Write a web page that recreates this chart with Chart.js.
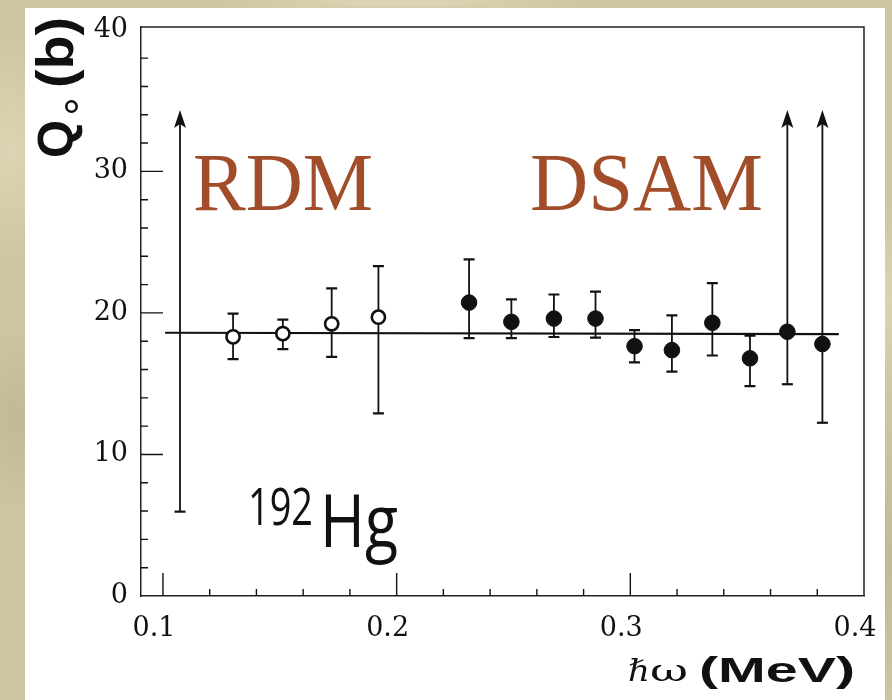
<!DOCTYPE html>
<html>
<head>
<meta charset="utf-8">
<script src="https://cdn.jsdelivr.net/npm/chart.js@4.4.0/dist/chart.umd.min.js"></script>
<style>
  html, body { margin: 0; padding: 0; }
  body {
    width: 892px; height: 700px; position: relative; overflow: hidden;
    background-color: #cec4a1;
    background-image:
      radial-gradient(ellipse 60px 120px at 10px 150px, rgba(255,250,225,0.3), transparent),
      radial-gradient(ellipse 40px 90px at 15px 420px, rgba(150,135,95,0.2), transparent),
      radial-gradient(ellipse 50px 100px at 880px 300px, rgba(255,250,225,0.3), transparent),
      radial-gradient(ellipse 200px 10px at 400px 3px, rgba(255,250,230,0.35), transparent),
      radial-gradient(ellipse 40px 140px at 885px 560px, rgba(150,135,95,0.2), transparent);
  }
  #panel { position: absolute; left: 25px; top: 8px; width: 860px; height: 692px; background: #ffffff; }
  #wrap { position: absolute; left: 0; top: 0; width: 892px; height: 700px; }
</style>
</head>
<body>
<div id="panel"></div>
<div id="wrap"><canvas id="c" width="892" height="700"></canvas></div>
<script>
// Quadrupole moment Q0 (b) of 192Hg versus rotational frequency (MeV)

// RDM points (open circles)
const rdmOmega = [0.1300, 0.1513, 0.1722, 0.1922];
const rdmQ     = [18.31, 18.54, 19.23, 19.70];
const rdmLow   = [16.73, 17.44, 16.90, 12.90];
const rdmHigh  = [19.95, 19.53, 21.73, 23.30];

// DSAM points (filled circles)
const dsamOmega = [0.2310, 0.2491, 0.2673, 0.2851, 0.3018, 0.3178, 0.3351, 0.3512, 0.3672, 0.3822];
const dsamQ     = [20.73, 19.37, 19.60, 19.60, 17.65, 17.37, 19.30, 16.79, 18.67, 17.80];
const dsamLow   = [18.22, 18.22, 18.30, 18.25, 16.50, 15.85, 16.99, 14.83, 14.96, 12.24];
const dsamHigh  = [23.78, 20.96, 21.30, 21.50, 18.78, 19.83, 22.10, 18.40, 34.34, 34.34];
// upper error open-ended (drawn as an arrow)
const dsamOpenTop = [false, false, false, false, false, false, false, false, true, true];

// lower-limit only measurement (no central point)
const limitOmega = [0.1073];
const limitLow   = [5.96];
const limitHigh  = [34.34];

// constant-Q0 fit
const fitOmega = [0.1009, 0.3892];
const fitQ     = [18.60, 18.50];

// axis ticks
const xTickValues = [0.1, 0.2, 0.3, 0.4];
const yTickValues = [0, 10, 20, 30, 40];
const xMinorStep = 0.02;
const yMinorStep = 2;

const INK = '#111111';

function fitText(ctx, text, x, y, width, font, color) {
  ctx.save();
  ctx.font = font;
  ctx.fillStyle = color || INK;
  ctx.textBaseline = 'alphabetic';
  ctx.textAlign = 'left';
  const w = ctx.measureText(text).width;
  ctx.translate(x, y);
  ctx.scale(width / w, 1);
  ctx.fillText(text, 0, 0);
  ctx.restore();
}

function arrowHead(ctx, x, yTip) {
  ctx.beginPath();
  ctx.moveTo(x, yTip);
  ctx.lineTo(x - 6, yTip + 18);
  ctx.lineTo(x, yTip + 14);
  ctx.lineTo(x + 6, yTip + 18);
  ctx.closePath();
  ctx.fill();
}

const errorBars = {
  id: 'errorBars',
  beforeDatasetsDraw(chart) {
    const { ctx, scales: { x, y } } = chart;
    ctx.save();
    ctx.strokeStyle = INK;
    ctx.fillStyle = INK;
    const bar = (xv, lo, hi, openTop) => {
      const px = x.getPixelForValue(xv);
      const pLo = y.getPixelForValue(lo);
      const pHi = y.getPixelForValue(hi);
      ctx.lineWidth = 1.8;
      ctx.beginPath();
      ctx.moveTo(px, pLo);
      ctx.lineTo(px, openTop ? pHi + 14 : pHi);
      ctx.stroke();
      ctx.lineWidth = 2.2;
      ctx.beginPath();
      ctx.moveTo(px - 5.5, pLo); ctx.lineTo(px + 5.5, pLo);
      if (!openTop) { ctx.moveTo(px - 5.5, pHi); ctx.lineTo(px + 5.5, pHi); }
      ctx.stroke();
      if (openTop) arrowHead(ctx, px, pHi);
    };
    rdmOmega.forEach((v, i) => bar(v, rdmLow[i], rdmHigh[i], false));
    dsamOmega.forEach((v, i) => bar(v, dsamLow[i], dsamHigh[i], dsamOpenTop[i]));
    limitOmega.forEach((v, i) => bar(v, limitLow[i], limitHigh[i], true));
    ctx.restore();
  }
};

const frameAndText = {
  id: 'frameAndText',
  afterDraw(chart) {
    const { ctx, chartArea: a, scales: { x, y } } = chart;
    ctx.save();
    // top and right edges of the frame
    ctx.strokeStyle = '#222';
    ctx.lineWidth = 1.5;
    ctx.beginPath();
    ctx.moveTo(a.left, a.top); ctx.lineTo(a.right, a.top); ctx.lineTo(a.right, a.bottom);
    ctx.stroke();

    // inward tick marks
    ctx.strokeStyle = INK;
    ctx.lineWidth = 1.4;
    ctx.beginPath();
    for (let v = 0.1; v < x.max - 1e-6; v += xMinorStep) {
      const px = x.getPixelForValue(v);
      const major = xTickValues.some(t => Math.abs(t - v) < 1e-6);
      ctx.moveTo(px, a.bottom); ctx.lineTo(px, a.bottom - (major ? 23 : 7));
    }
    for (let v = yMinorStep; v < y.max - 0.5; v += yMinorStep) {
      const py = y.getPixelForValue(v);
      const major = yTickValues.some(t => Math.abs(t - v) < 1e-6);
      ctx.moveTo(a.left, py); ctx.lineTo(a.left + (major ? 22 : 7), py);
    }
    ctx.stroke();

    // y axis title: Q0 (b)
    ctx.save();
    ctx.translate(73, 158);
    ctx.rotate(-Math.PI / 2);
    fitText(ctx, 'Q', 0, 0, 38, 'bold 50px "Liberation Sans"');
    ctx.strokeStyle = INK;
    ctx.lineWidth = 2.6;
    ctx.beginPath();
    ctx.arc(51.5, -1.5, 5.2, 0, Math.PI * 2);
    ctx.stroke();
    fitText(ctx, '(b)', 70, 0, 71, 'bold 52px "Liberation Sans"');
    ctx.restore();

    // x axis title: ħω (MeV)
    fitText(ctx, '\u210F', 628, 681, 22, 'italic 30px "DejaVu Serif"');
    fitText(ctx, '\u03C9', 650, 681, 38, '29px "DejaVu Serif"');
    fitText(ctx, '(MeV)', 699, 682, 156, 'bold 35px "Liberation Sans"');

    // method labels
    const brown = '#a24d2a';
    fitText(ctx, 'RDM', 193, 210, 180, '82px "Liberation Serif"', brown);
    fitText(ctx, 'DSAM', 530, 210, 233, '82px "Liberation Serif"', brown);

    // nucleus label
    fitText(ctx, '192', 248, 525, 65, '52px "Open Sans"');
    fitText(ctx, 'Hg', 320, 547, 78, '73px "Open Sans"');
    ctx.restore();
  }
};

new Chart(document.getElementById('c'), {
  type: 'scatter',
  data: {
    datasets: [
      {
        label: 'fit',
        data: fitOmega.map((v, i) => ({ x: v, y: fitQ[i] })),
        showLine: true, borderColor: INK, borderWidth: 2.2, pointRadius: 0, order: 3
      },
      {
        label: 'RDM',
        data: rdmOmega.map((v, i) => ({ x: v, y: rdmQ[i] })),
        pointStyle: 'circle', pointRadius: 6.6, pointBorderWidth: 2.6,
        pointBackgroundColor: '#ffffff', pointBorderColor: INK, order: 1
      },
      {
        label: 'DSAM',
        data: dsamOmega.map((v, i) => ({ x: v, y: dsamQ[i] })),
        pointStyle: 'circle', pointRadius: 7.8, pointBorderWidth: 1,
        pointBackgroundColor: INK, pointBorderColor: INK, order: 1
      }
    ]
  },
  options: {
    responsive: false,
    animation: false,
    devicePixelRatio: 1,
    events: [],
    layout: { padding: { left: 0, top: 27, right: 28, bottom: 0 } },
    plugins: { legend: { display: false }, tooltip: { enabled: false } },
    scales: {
      x: {
        type: 'linear', min: 0.0906, max: 0.4,
        afterBuildTicks: s => { s.ticks = xTickValues.map(v => ({ value: v })); },
        afterFit: s => { s.height = 104; s.paddingLeft = 0; s.paddingRight = 0; },
        grid: { display: false, drawTicks: false },
        border: { display: true, color: '#222', width: 1.5 },
        ticks: {
          font: { family: 'DejaVu Serif', size: 27 }, color: INK,
          padding: 17, labelOffset: -9, maxRotation: 0, autoSkip: false,
          callback: v => Number(v).toFixed(1)
        }
      },
      y: {
        type: 'linear', min: 0, max: 40.2,
        afterBuildTicks: s => { s.ticks = yTickValues.map(v => ({ value: v })); },
        afterFit: s => { s.width = 141; s.paddingTop = 0; s.paddingBottom = 0; },
        grid: { display: false, drawTicks: false },
        border: { display: true, color: '#222', width: 1.5 },
        ticks: {
          font: { family: 'DejaVu Serif', size: 27 }, color: INK,
          padding: 13, autoSkip: false,
          callback: v => String(v)
        }
      }
    }
  },
  plugins: [errorBars, frameAndText]
});
</script>
</body>
</html>
